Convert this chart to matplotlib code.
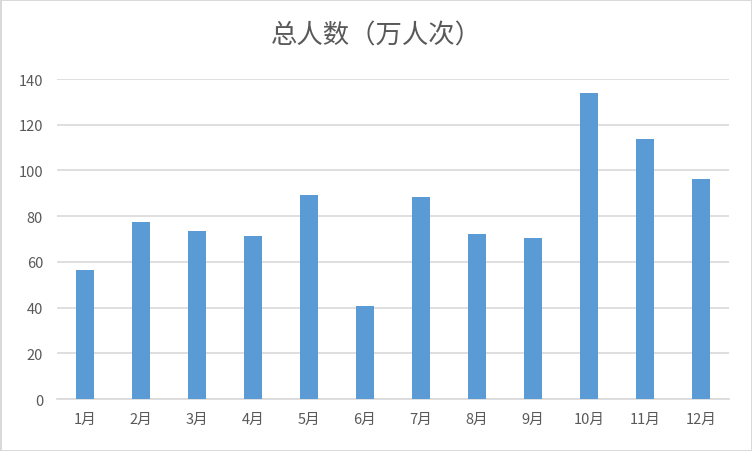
import matplotlib.pyplot as plt
import numpy as np

plt.rcParams['font.family'] = ['Noto Sans CJK SC', 'DejaVu Sans']

# 数据
months = ["1月", "2月", "3月", "4月", "5月", "6月", "7月", "8月", "9月", "10月", "11月", "12月"]
visitors = [56.3, 77.4, 73.5, 71.3, 89.3, 40.7, 88.4, 72.2, 70.4, 133.8, 113.8, 96.4]
y_ticks = [0, 20, 40, 60, 80, 100, 120, 140]

fig = plt.figure(figsize=(7.52, 4.52), dpi=100)
fig.patch.set_edgecolor("#D9D9D9")
fig.patch.set_linewidth(2)
ax = fig.add_axes([0.0758, 0.115, 0.8936, 0.708])

x = np.arange(len(months))
ax.bar(x, visitors, width=0.32, color="#5B9BD5", zorder=3)

ax.set_xlim(-0.5, len(months) - 0.5)
ax.set_ylim(0, 140)
ax.set_yticks(y_ticks)
ax.set_xticks(x)
ax.set_xticklabels(months)
ax.grid(axis="y", color="#D9D9D9", linewidth=1.2, zorder=0)
for s in ["top", "right", "left"]:
    ax.spines[s].set_visible(False)
ax.spines["bottom"].set_color("#D9D9D9")
ax.spines["bottom"].set_linewidth(1.2)
ax.tick_params(axis="both", length=0, colors="#595959", labelsize=10.5)
ax.tick_params(axis="x", pad=9)
ax.tick_params(axis="y", pad=10)

fig.text(0.5, 0.92, "总人数（万人次）", ha="center", va="center", fontsize=19,
         color="#595959", fontweight="light")

fig.savefig("out.png", dpi=100)
